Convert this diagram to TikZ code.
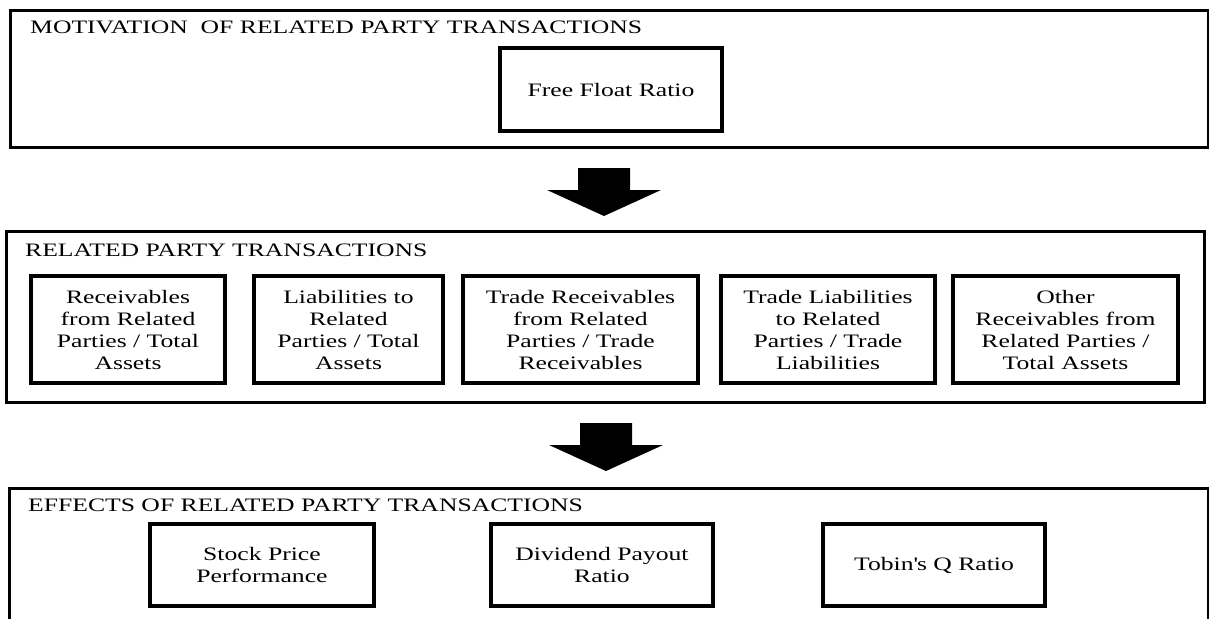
\documentclass[tikz,border=0pt]{standalone}
\usepackage{fontspec}
\setmainfont[FakeStretch=1.35]{Liberation Serif}
\newcommand\diagfont{\fontsize{19pt}{22pt}\selectfont}
\begin{document}
\begin{tikzpicture}[x=1pt,y=-1pt,
  outerbox/.style={draw, line width=3pt, inner sep=0pt, outer sep=0pt},
  ibox/.style={draw, line width=3.5pt, inner sep=0pt, outer sep=0pt, align=center, font=\diagfont},
  boxtitle/.style={anchor=base west, inner sep=0pt, font=\diagfont},
  blockarrow/.style={fill=black}]
\useasboundingbox (0,0) rectangle (1209,619);

% top section
\node[outerbox, minimum width=1198pt, minimum height=137pt] (motiv) at (609,78.5) {};
\node[boxtitle] (motivtitle) at (30,33.3) {MOTIVATION\ \ OF RELATED PARTY TRANSACTIONS};
\node[ibox, minimum width=222pt, minimum height=83pt] (ffr) at (611,89.5) {Free Float Ratio};

% middle section
\node[outerbox, minimum width=1198pt, minimum height=171pt] (rpt) at (605,316.5) {};
\node[boxtitle] (rpttitle) at (25,256.3) {RELATED PARTY TRANSACTIONS};
\node[ibox, minimum width=194pt, minimum height=107pt] (r1) at (128,329.5) {Receivables\\from Related\\Parties / Total\\Assets};
\node[ibox, minimum width=189pt, minimum height=107pt] (r2) at (348.5,329.5) {Liabilities to\\Related\\Parties / Total\\Assets};
\node[ibox, minimum width=235pt, minimum height=107pt] (r3) at (580.5,329.5) {Trade Receivables\\from Related\\Parties / Trade\\Receivables};
\node[ibox, minimum width=214pt, minimum height=107pt] (r4) at (828,329.5) {Trade Liabilities\\to Related\\Parties / Trade\\Liabilities};
\node[ibox, minimum width=225pt, minimum height=107pt] (r5) at (1065.5,329.5) {Other\\Receivables from\\Related Parties /\\Total Assets};

% bottom section (box runs past the lower edge)
\coordinate (eff-bl) at (9,619);
\coordinate (eff-tl) at (9,488);
\coordinate (eff-tr) at (1208,488);
\coordinate (eff-br) at (1208,619);
\draw[line width=3pt] (eff-bl) -- (eff-tl) -- (eff-tr) -- (eff-br);
\node[boxtitle] (efftitle) at (28,511.3) {EFFECTS OF RELATED PARTY TRANSACTIONS};
\node[ibox, minimum width=224pt, minimum height=82pt] (e1) at (262,565) {Stock Price\\Performance};
\node[ibox, minimum width=222pt, minimum height=82pt] (e2) at (602,565) {Dividend Payout\\Ratio};
\node[ibox, minimum width=222pt, minimum height=82pt] (e3) at (934,565) {Tobin\textquotesingle s Q Ratio};

% block arrows
\coordinate (tip1) at (604,216);
\coordinate (tip2) at (606,471);
\fill[blockarrow] (tip1) -- ++(-57,-26) -- ++(31,0) -- ++(0,-22) -- ++(52,0) -- ++(0,22) -- ++(31,0) -- cycle;
\fill[blockarrow] (tip2) -- ++(-57,-26) -- ++(31,0) -- ++(0,-22) -- ++(52,0) -- ++(0,22) -- ++(31,0) -- cycle;
\end{tikzpicture}
\end{document}
